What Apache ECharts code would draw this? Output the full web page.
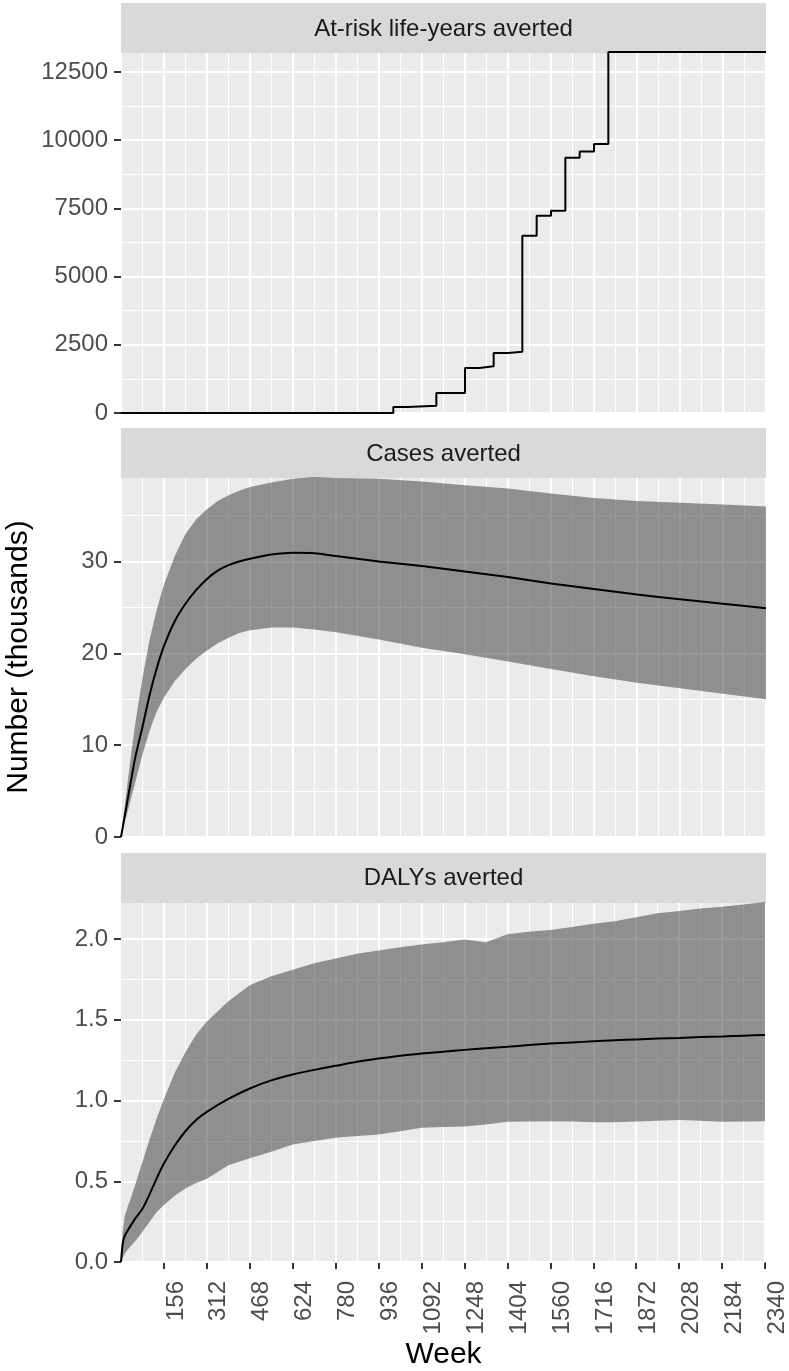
<!DOCTYPE html>
<html><head><meta charset="utf-8">
<script src="https://cdn.jsdelivr.net/npm/echarts@6/dist/echarts.min.js"></script>
<style>html,body{margin:0;padding:0;background:#fff}#c{width:789px;height:1371px}</style>
</head><body><div id="c"></div>
<script>
// ---------- data ----------
const panelTitles = ['At-risk life-years averted', 'Cases averted', 'DALYs averted'];
const xTitle = 'Week';
const yTitle = 'Number (thousands)';

const weekTicks = [156, 312, 468, 624, 780, 936, 1092, 1248, 1404, 1560, 1716, 1872, 2028, 2184, 2340];
const riskTicks = [0, 2500, 5000, 7500, 10000, 12500];
const casesTicks = [0, 10, 20, 30];
const dalyTicks = [0, 0.5, 1, 1.5, 2];

// At-risk life-years averted (step changes, value held from that week on)
const riskWeeks  = [0, 988, 1040, 1144, 1248, 1300, 1352, 1404, 1456, 1508, 1560, 1612, 1664, 1716, 1768, 2340];
const riskValues = [0, 220, 268, 733, 1650, 1709, 2199, 2248, 6500, 7232, 7416, 9359, 9579, 9861, 13230, 13230];

// Cases averted (thousands)
const casesWeeks  = [0, 13, 26, 39, 52, 78, 104, 130, 156, 195, 234, 273, 312, 351, 390, 429, 468, 546, 624, 702, 780, 936, 1092, 1248, 1404, 1560, 1716, 1872, 2028, 2184, 2340];
const casesUpper  = [0, 3.2, 6.4, 9.5, 12.4, 17.3, 21.5, 24.8, 27.5, 30.6, 33.0, 34.6, 35.7, 36.6, 37.2, 37.7, 38.1, 38.6, 39.0, 39.2, 39.1, 39.0, 38.7, 38.3, 37.95, 37.4, 36.9, 36.6, 36.4, 36.2, 36.0];
const casesMedian = [0, 2.2, 4.4, 6.6, 8.7, 12.0, 15.5, 18.4, 20.8, 23.5, 25.4, 26.9, 28.1, 29.0, 29.6, 30.0, 30.3, 30.75, 30.95, 30.9, 30.6, 30.0, 29.5, 28.9, 28.3, 27.6, 27.0, 26.4, 25.9, 25.4, 24.9];
const casesLower  = [0, 1.5, 3.0, 4.5, 6.0, 9.0, 11.6, 13.7, 15.2, 17.0, 18.3, 19.4, 20.3, 21.1, 21.7, 22.2, 22.5, 22.8, 22.8, 22.6, 22.3, 21.5, 20.6, 19.9, 19.1, 18.3, 17.5, 16.8, 16.2, 15.6, 15.0];

// DALYs averted (thousands)
const dalyWeeks  = [0, 6, 13, 26, 39, 52, 78, 104, 130, 156, 195, 234, 273, 312, 390, 468, 546, 624, 702, 780, 858, 936, 1014, 1092, 1170, 1248, 1326, 1404, 1482, 1560, 1638, 1716, 1794, 1872, 1950, 2028, 2106, 2184, 2262, 2340];
const dalyUpper  = [0, 0.18, 0.28, 0.35, 0.41, 0.48, 0.62, 0.76, 0.89, 1.01, 1.17, 1.30, 1.41, 1.49, 1.615, 1.715, 1.77, 1.81, 1.85, 1.88, 1.91, 1.93, 1.95, 1.967, 1.98, 1.998, 1.98, 2.03, 2.045, 2.056, 2.075, 2.095, 2.11, 2.135, 2.16, 2.175, 2.19, 2.2, 2.215, 2.23];
const dalyMedian = [0, 0.11, 0.16, 0.2, 0.235, 0.27, 0.33, 0.42, 0.52, 0.61, 0.72, 0.81, 0.88, 0.93, 1.01, 1.075, 1.125, 1.162, 1.19, 1.215, 1.24, 1.26, 1.277, 1.292, 1.303, 1.314, 1.324, 1.333, 1.344, 1.353, 1.36, 1.367, 1.373, 1.379, 1.384, 1.388, 1.393, 1.397, 1.402, 1.406];
const dalyLower  = [0, 0.025, 0.05, 0.08, 0.105, 0.13, 0.188, 0.25, 0.31, 0.353, 0.41, 0.455, 0.49, 0.516, 0.6, 0.642, 0.683, 0.728, 0.75, 0.77, 0.78, 0.79, 0.81, 0.832, 0.836, 0.84, 0.852, 0.868, 0.87, 0.872, 0.87, 0.866, 0.866, 0.87, 0.875, 0.879, 0.875, 0.868, 0.87, 0.872];

// ---------- chart ----------
const FONT = '"Liberation Sans", Arial, sans-serif';
const PL = 121, PW = 645;
const grids = [
  {left: PL, top: 52, width: PW, height: 361},
  {left: PL, top: 477, width: PW, height: 360},
  {left: PL, top: 902, width: PW, height: 360}
];
const strips = [{y: 3, ty: 29}, {y: 428, ty: 454.2}, {y: 853, ty: 878.8}];

const yMax = [Math.max(...riskValues), Math.max(...casesUpper), Math.max(...dalyUpper)];
const yMajor = [2500, 10, 0.5];
const yMinor = [1250, 5, 0.25];
const yTicks = [riskTicks, casesTicks, dalyTicks];
const yFmt = [v => String(v), v => String(v), v => v.toFixed(1)];

const xAxes = grids.map((g, i) => ({
  type: 'value', gridIndex: i, min: 0, max: 2340, interval: 156, z: 0,
  axisLine: {show: false},
  axisTick: i === 2 ? {show: true, customValues: weekTicks, length: 7, lineStyle: {color: '#333333', width: 2}} : {show: false},
  axisLabel: i === 2 ? {show: true, customValues: weekTicks, rotate: 90, verticalAlign: 'top', margin: 19,
                        fontSize: 24, color: '#4D4D4D', fontFamily: FONT, formatter: v => String(v)} : {show: false},
  splitLine: {show: true, lineStyle: {color: '#FFFFFF', width: 2}},
  minorTick: {show: false, splitNumber: 2},
  minorSplitLine: {show: true, lineStyle: {color: '#FFFFFF', width: 1}}
}));

const yAxes = [];
grids.forEach((g, i) => {
  yAxes.push({
    type: 'value', gridIndex: i, min: 0, max: yMax[i], interval: yMajor[i], z: 1,
    axisLine: {show: false},
    axisTick: {show: true, customValues: yTicks[i], length: 7, lineStyle: {color: '#333333', width: 2}},
    axisLabel: {show: true, customValues: yTicks[i], margin: 13, fontSize: 24, color: '#4D4D4D',
                fontFamily: FONT, formatter: yFmt[i]},
    splitLine: {show: true, lineStyle: {color: '#FFFFFF', width: 2}}
  });
  yAxes.push({
    type: 'value', gridIndex: i, min: 0, max: yMax[i], interval: yMinor[i], z: 0, position: 'left',
    axisLine: {show: false}, axisTick: {show: false}, axisLabel: {show: false},
    splitLine: {show: true, lineStyle: {color: '#FFFFFF', width: 1}}
  });
});

const zip = (xs, ys) => xs.map((x, k) => [x, ys[k]]);
const zip3 = (xs, a, b) => xs.map((x, k) => [x, a[k], b[k]]);
const RIBBON = 'rgba(51,51,51,0.5)';

// ribbon drawn as one polygon through the axis scales (api.coord)
function ribbonRender(params, api) {
  if (params.dataIndexInside !== 0) return null;
  const n = params.dataInsideLength;
  const top = [], bot = [];
  for (let k = 0; k < n; k++) {
    const x = api.value(0, k);
    top.push(api.coord([x, api.value(2, k)]));
    bot.push(api.coord([x, api.value(1, k)]));
  }
  return {type: 'polygon', shape: {points: top.concat(bot.reverse())},
          style: {fill: RIBBON}, silent: true};
}

function ribbon(gi, weeks, lower, median, upper) {
  return [
    {type: 'custom', xAxisIndex: gi, yAxisIndex: gi * 2, data: zip3(weeks, lower, upper),
     encode: {x: 0, y: [1, 2]}, renderItem: ribbonRender, silent: true, z: 2},
    {type: 'line', xAxisIndex: gi, yAxisIndex: gi * 2, data: zip(weeks, median),
     smooth: 0.25,
     symbol: 'none', lineStyle: {color: '#000000', width: 2}, z: 3, silent: true}
  ];
}

const series = [
  {type: 'line', xAxisIndex: 0, yAxisIndex: 0, step: 'end', data: zip(riskWeeks, riskValues),
   symbol: 'none', lineStyle: {color: '#000000', width: 2}, silent: true},
  ...ribbon(1, casesWeeks, casesLower, casesMedian, casesUpper),
  ...ribbon(2, dalyWeeks, dalyLower, dalyMedian, dalyUpper)
];

const graphic = [];
strips.forEach((s, i) => {
  graphic.push({type: 'rect', z: 1.5, silent: true,
    shape: {x: PL, y: s.y, width: PW, height: 50}, style: {fill: '#D9D9D9'}});
  graphic.push({type: 'text', z: 1.6, silent: true, x: PL + PW / 2, y: s.ty,
    style: {text: panelTitles[i], fontSize: 24, fontFamily: FONT, fill: '#1A1A1A',
            textAlign: 'center', textVerticalAlign: 'middle'}});
});
graphic.push({type: 'text', silent: true, x: PL + PW / 2, y: 1355,
  style: {text: xTitle, fontSize: 30, fontFamily: FONT, fill: '#000000', textAlign: 'center', textVerticalAlign: 'middle'}});
graphic.push({type: 'text', silent: true, x: 19, y: 657, rotation: Math.PI / 2,
  style: {text: yTitle, fontSize: 30, fontFamily: FONT, fill: '#000000', textAlign: 'center', textVerticalAlign: 'middle'}});

const chart = echarts.init(document.getElementById('c'), null, {renderer: 'canvas'});
chart.setOption({
  animation: false,
  backgroundColor: '#FFFFFF',
  grid: grids.map(g => Object.assign({show: true, backgroundColor: '#EBEBEB', borderWidth: 0, containLabel: false}, g)),
  xAxis: xAxes,
  yAxis: yAxes,
  series: series,
  graphic: graphic
});
</script></body></html>
